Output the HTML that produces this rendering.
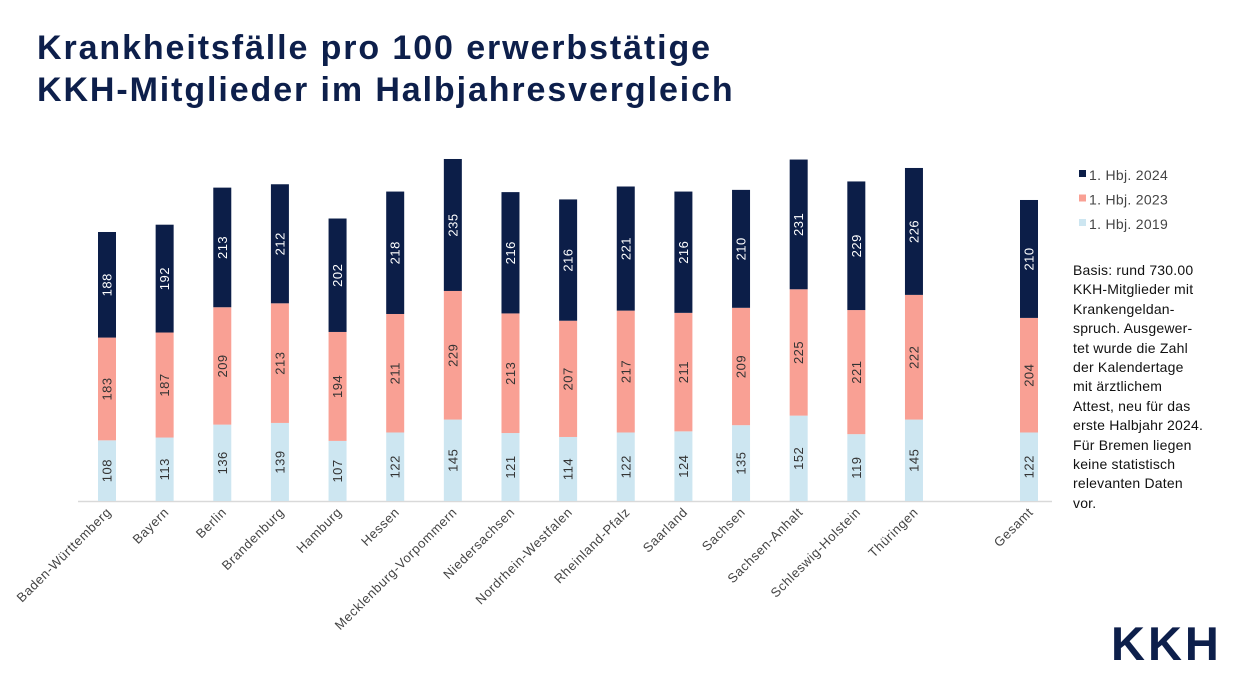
<!DOCTYPE html>
<html><head><meta charset="utf-8"><style>
body{margin:0;width:1236px;height:677px;background:#fff;overflow:hidden;font-family:"Liberation Sans",sans-serif}
.t{position:absolute;left:37px;top:27px;font-size:34px;font-weight:bold;color:#0d1f4b;line-height:42px;letter-spacing:1.9px}
.side{position:absolute;left:1073px;top:261px;font-size:14px;line-height:19.4px;color:#111;width:170px;letter-spacing:0.2px}
.logo{position:absolute;left:1111px;top:616px;font-size:47px;font-weight:bold;color:#0d1f4b;letter-spacing:3px}
</style></head><body>
<div class="t">Krankheitsfälle pro 100 erwerbstätige<br>KKH-Mitglieder im Halbjahresvergleich</div>
<svg width="1236" height="677" style="position:absolute;left:0;top:0" id="s"></svg>
<div class="side">Basis: rund 730.00<br>KKH-Mitglieder mit<br>Krankengeldan-<br>spruch. Ausgewer-<br>tet wurde die Zahl<br>der Kalendertage<br>mit ärztlichem<br>Attest, neu für das<br>erste Halbjahr 2024.<br>Für Bremen liegen<br>keine statistisch<br>relevanten Daten<br>vor.</div>
<div class="logo">KKH</div>
<script>
const d=[["Baden-Württemberg",108,183,188],["Bayern",113,187,192],["Berlin",136,209,213],["Brandenburg",139,213,212],["Hamburg",107,194,202],["Hessen",122,211,218],["Mecklenburg-Vorpommern",145,229,235],["Niedersachsen",121,213,216],["Nordrhein-Westfalen",114,207,216],["Rheinland-Pfalz",122,217,221],["Saarland",124,211,216],["Sachsen",135,209,210],["Sachsen-Anhalt",152,225,231],["Schleswig-Holstein",119,221,229],["Thüringen",145,222,226],["Gesamt",122,204,210]];
const k=0.5616,B=501,cols=["#cde6f1","#f9a094","#0c1e48"],tc=["#333","#333","#fff"];
let h='<line x1="78" y1="501.5" x2="1052" y2="501.5" stroke="#d9d9d9" stroke-width="1.5"/>';
d.forEach((r,i)=>{let cx=107+i*57.64;if(i==15)cx=1029;let y=B;
for(let j=0;j<3;j++){let hh=r[j+1]*k;y-=hh;
h+=`<rect x="${cx-9}" y="${y}" width="18" height="${hh}" fill="${cols[j]}"/>`;
h+=`<text transform="translate(${cx+4.5},${y+hh/2}) rotate(-90)" text-anchor="middle" font-size="13" fill="${tc[j]}" letter-spacing="0.5">${r[j+1]}</text>`;}
h+=`<text transform="translate(${cx+5},${B+12}) rotate(-45)" text-anchor="end" font-size="13" letter-spacing="0.6" fill="#444">${r[0]}</text>`;});
[["1. Hbj. 2024",0,2],["1. Hbj. 2023",1,1],["1. Hbj. 2019",2,0]].forEach((l)=>{let y=175+l[1]*24.5;
h+=`<rect x="1079" y="${y-5}" width="7" height="7" fill="${cols[l[2]]}"/><text x="1089" y="${y+5}" font-size="14" letter-spacing="0.3" fill="#444">${l[0]}</text>`;});
document.getElementById('s').innerHTML=h;
</script>
</body></html>
